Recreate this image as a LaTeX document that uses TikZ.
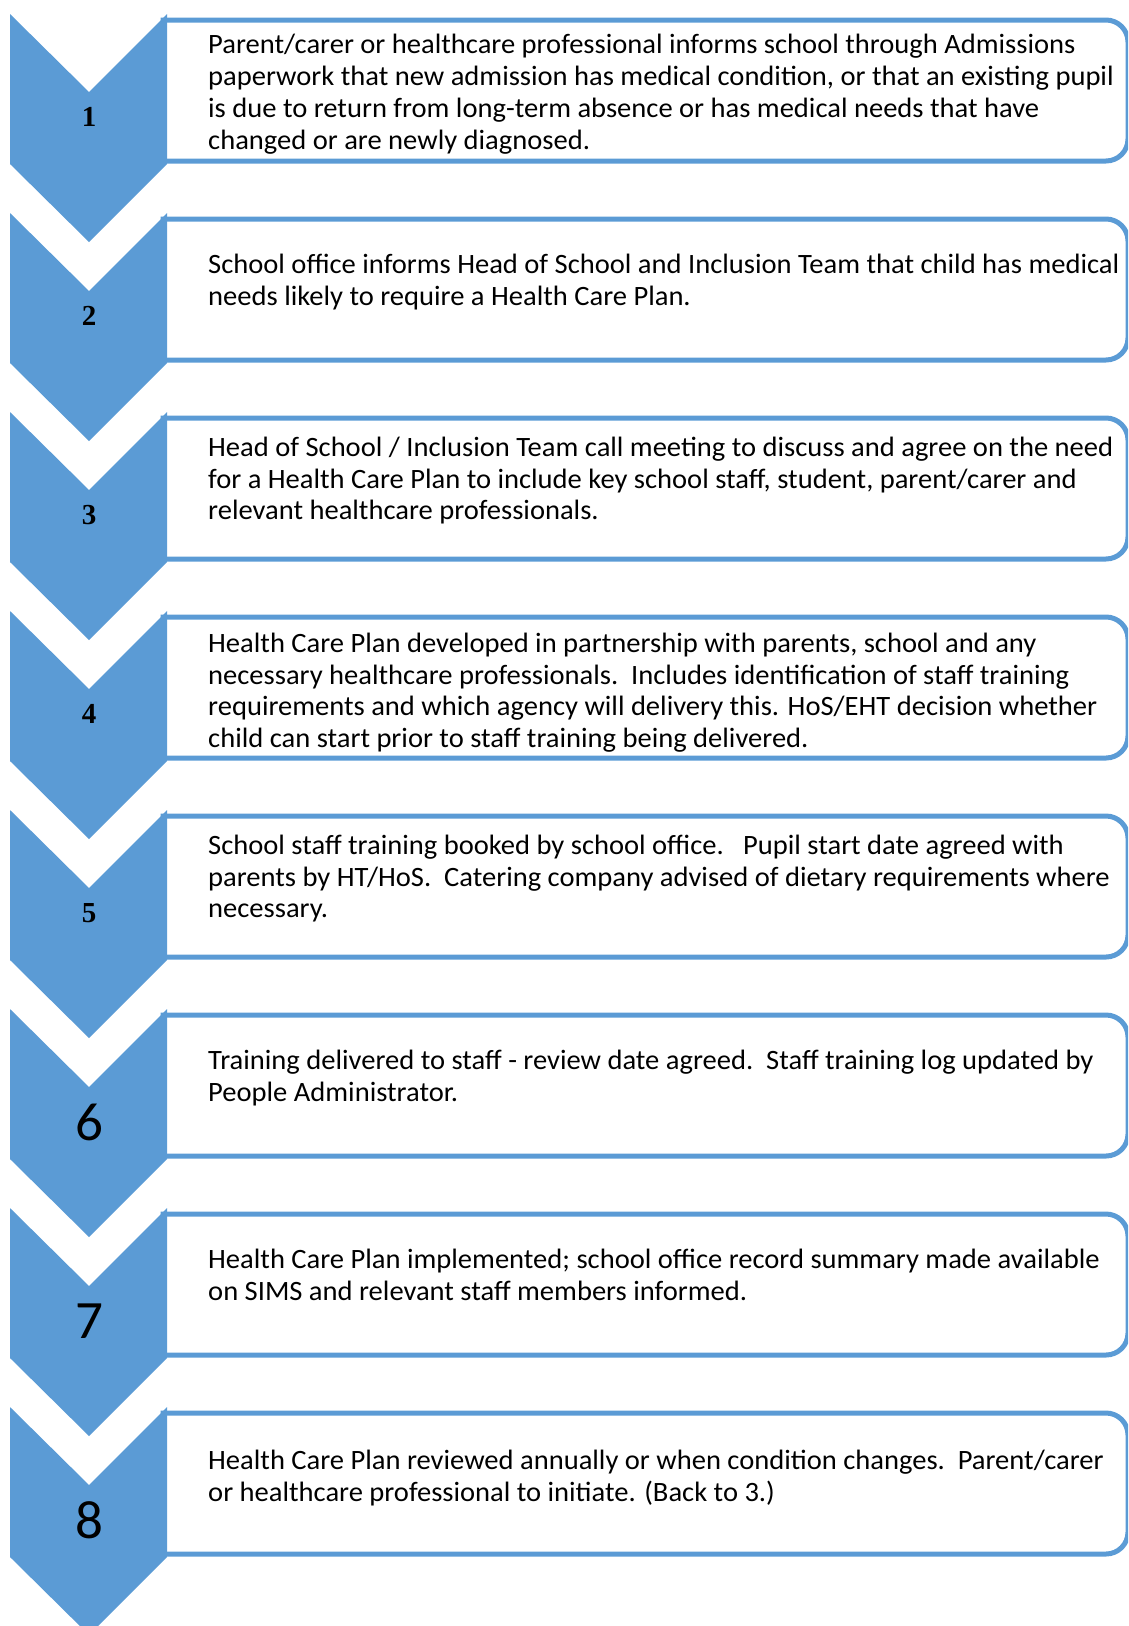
\documentclass[tikz,border=0pt]{standalone}
\usepackage{fontspec}
\setmainfont{Carlito}[FakeStretch=1.02]
\newfontfamily\numserif{Liberation Serif}
\definecolor{stepblue}{HTML}{5B9BD5}
\newcommand\firststrut{\rule{0pt}{24pt}}
\begin{document}
\begin{tikzpicture}[x=1pt,y=1pt,
  chev/.style={fill=stepblue},
  stepbox/.style={draw=stepblue,line width=5pt},
  txt/.style={anchor=north west,inner sep=0pt,align=left,font=\fontsize{28}{31.8}\selectfont},
  numa/.style={inner sep=0pt,font=\numserif\bfseries\fontsize{29}{30}\selectfont},
  numb/.style={inner sep=0pt,font=\fontsize{54}{60}\selectfont}]
\useasboundingbox (0,0) rectangle (1128,-1626);
\clip (0,0) rectangle (1128,-1626);
\foreach \i in {0,...,7} {
  \pgfmathsetmacro\T{14+199*\i}
  \draw[stepbox] (163,-\T-6) -- (1106,-\T-6) arc[start angle=90,end angle=0,radius=22]
     -- (1128,-\T-125) arc[start angle=0,end angle=-90,radius=22] -- (163,-\T-147) -- cycle;
  \fill[chev] (10,-\T) -- (89,-\T-78) -- (167,-\T) -- (167,-\T-150) -- (89,-\T-228) -- (10,-\T-150) -- cycle;
}
% numbers
\node[numa] (n1) at (89,-117) {1};
\node[numa] (n2) at (89,-316) {2};
\node[numa] (n3) at (89,-515) {3};
\node[numa] (n4) at (89,-714) {4};
\node[numa] (n5) at (89,-913) {5};
\node[numb] (n6) at (89,-1122) {6};
\node[numb] (n7) at (89,-1321) {7};
\node[numb] (n8) at (89,-1520) {8};
% texts
\node[txt] (t1) at (208,-29.5) {\firststrut Parent/carer or healthcare professional informs school through Admissions\\paperwork that new admission has medical condition, or that an existing pupil\\is due to return from long-term absence or has medical needs that have\\changed or are newly diagnosed.};
\node[txt] (t2) at (208,-249) {\firststrut School office informs Head of School and Inclusion Team that child has medical\\needs likely to require a Health Care Plan.};
\node[txt] (t3) at (208,-432) {\firststrut Head of School / Inclusion Team call meeting to discuss and agree on the need\\for a Health Care Plan to include key school staff, student, parent/carer and\\relevant healthcare professionals.};
\node[txt] (t4) at (208,-628) {\firststrut Health Care Plan developed in partnership with parents, school and any\\necessary healthcare professionals.\ \ Includes identification of staff training\\requirements and which agency will delivery this. HoS/EHT decision whether\\child can start prior to staff training being delivered.};
\node[txt] (t5) at (208,-830) {\firststrut School staff training booked by school office.\ \ \ Pupil start date agreed with\\parents by HT/HoS.\ \ Catering company advised of dietary requirements where\\necessary.};
\node[txt] (t6) at (208,-1045) {\firststrut Training delivered to staff - review date agreed.\ \ Staff training log updated by\\People Administrator.};
\node[txt] (t7) at (208,-1244) {\firststrut Health Care Plan implemented; school office record summary made available\\on SIMS and relevant staff members informed.};
\node[txt] (t8) at (208,-1445) {\firststrut Health Care Plan reviewed annually or when condition changes.\ \ Parent/carer\\or healthcare professional to initiate. (Back to 3.)};
\end{tikzpicture}
\end{document}
